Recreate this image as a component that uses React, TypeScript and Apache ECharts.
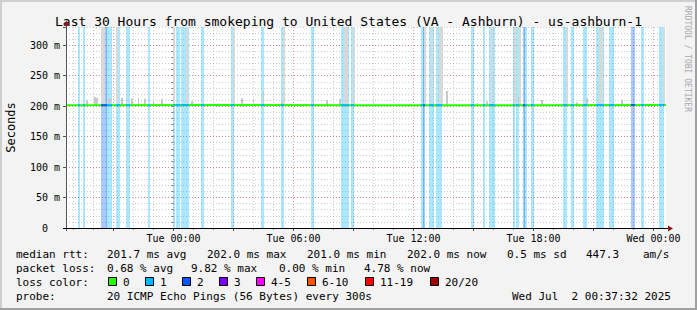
import React, { useEffect, useRef } from "react";
import * as echarts from "echarts";

// ---------- data ----------
const TITLE = "Last 30 Hours from smokeping to United States (VA - Ashburn) - us-ashburn-1";
const START_HOUR = -5.3744; // Mon 18:37:32 relative to Tue 00:00
const END_HOUR = 24.6256; // Wed 00:37:32
const STEP_HOURS = 5 / 60; // 300 s step
const Y_MAX = 330; // ms
const SMOKE_BASE = 201;

const xTickHours = [0, 6, 12, 18, 24];
const xTickLabels = ["Tue 00:00", "Tue 06:00", "Tue 12:00", "Tue 18:00", "Wed 00:00"];
const yLabelValues = [0, 50, 100, 150, 200, 250, 300];
const yLabelTexts = ["0\u00a0\u00a0", "50 m", "100 m", "150 m", "200 m", "250 m", "300 m"];

// step indices (5-min steps from start) with 1 / 2 lost pings
const loss1Steps = [7, 10, 24, 25, 26, 30, 31, 36, 37, 49, 64, 66, 67, 69, 70, 71, 72, 81, 99, 117, 129, 147,
  165, 166, 167, 168, 171, 213, 218, 219, 222, 223, 224, 243, 250, 254, 255, 256, 268, 270, 275, 279, 298, 299,
  303, 310, 311, 318, 319, 320, 321, 326, 327, 345, 356, 357];
const loss2Steps = [21, 22, 23, 214, 274, 339, 340];
// steps whose smoke reaches above the top of the graph
const smokeTopSteps = [21, 22, 30, 64, 72, 100, 130, 167, 168, 172, 215, 219, 224, 225, 255, 269, 272, 300, 320, 321, 358];
// [step, max rtt ms] small smoke spikes
const smokeSpikes: [number, number][] = [
  [12, 210], [17, 215], [18, 214], [25, 213], [26, 213], [33, 214], [39, 213], [43, 214], [47, 212], [52, 210],
  [57, 212], [75, 208], [82, 206], [91, 205], [105, 213], [112, 211], [118, 224], [129, 207], [148, 213],
  [156, 210], [164, 212], [184, 208], [228, 225], [246, 205], [252, 208], [271, 216], [285, 210], [306, 206],
  [312, 213], [333, 211],
];
// [step, median ms]
const medianPoints: [number, number][] = [[0, 201.6], [90, 201.8], [180, 201.6], [270, 201.7], [360, 202.0]];

const rttLabel = "median rtt:";
const rttStats = ["201.7 ms avg", "202.0 ms max", "201.0 ms min", "202.0 ms now", "0.5 ms sd", "447.3", "am/s"];
const lossLabel = "packet loss:";
const lossStats = ["0.68 % avg", "9.82 % max", "0.00 % min", "4.78 % now"];
const lossColorLabel = "loss color:";
const lossColorLabels = ["0", "1", "2", "3", "4-5", "6-10", "11-19", "20/20"];
const lossColors = ["#26ff00", "#00b8ff", "#0059ff", "#7e00ff", "#ff00ff", "#ff5500", "#ff0000", "#a10000"];
const probeLabel = "probe:";
const probeText = "20 ICMP Echo Pings (56 Bytes) every 300s";
const dateText = "Wed Jul\u00a0 2 00:37:32 2025";
const sideText = "RRDTOOL / TOBI OETIKER";

// ---------- layout ----------
const FONT = '"DejaVu Sans Mono", monospace';
const rttX = [107, 207, 307, 407, 507, 586, 643];
const lossX = [107, 191, 279, 364];
const boxX = [108, 145, 182, 219, 256, 307, 365, 430];
const lineY = [254, 268, 282, 296.5];

function hexAlpha(hex: string, a: number) {
  const r = parseInt(hex.slice(1, 3), 16), g = parseInt(hex.slice(3, 5), 16), b = parseInt(hex.slice(5, 7), 16);
  return `rgba(${r},${g},${b},${a})`;
}

function runs(steps: number[], level: number) {
  const s = [...steps].sort((a, b) => a - b);
  const out: number[][] = [];
  for (const v of s) {
    const last = out[out.length - 1];
    if (last && last[1] === v - 1) last[1] = v;
    else out.push([v, v, level]);
  }
  return out;
}

function medianAt(step: number) {
  for (let i = 0; i < medianPoints.length - 1; i++) {
    const [s0, v0] = medianPoints[i];
    const [s1, v1] = medianPoints[i + 1];
    if (step >= s0 && step <= s1) return v0 + ((v1 - v0) * (step - s0)) / (s1 - s0);
  }
  return medianPoints[medianPoints.length - 1][1];
}

const stepX = (s: number) => START_HOUR + s * STEP_HOURS;

export default function App() {
  const ref = useRef<HTMLDivElement>(null);
  useEffect(() => {
    if (!ref.current) return;
    const chart = echarts.init(ref.current, undefined, { renderer: "svg" });

    const lossRuns = [...runs(loss1Steps, 1), ...runs(loss2Steps, 2)];
    const smokeData = [
      ...smokeSpikes.map(([s, v]) => [s, v, 0]),
      ...smokeTopSteps.map((s) => [s, Y_MAX, 1]),
    ];
    const gridHours: number[] = [];
    for (let h = Math.ceil(START_HOUR); h <= Math.floor(END_HOUR); h++) gridHours.push(h);

    const graphic: any[] = [
      { type: "rect", shape: { x: 0, y: 0, width: 697, height: 2 }, style: { fill: "#cfcfcf" }, silent: true },
      { type: "rect", shape: { x: 0, y: 0, width: 2, height: 310 }, style: { fill: "#cfcfcf" }, silent: true },
      { type: "rect", shape: { x: 0, y: 308, width: 697, height: 2 }, style: { fill: "#a0a0a0" }, silent: true },
      { type: "rect", shape: { x: 695, y: 0, width: 2, height: 310 }, style: { fill: "#a0a0a0" }, silent: true },
      // axes
      { type: "line", shape: { x1: 66.5, y1: 231, x2: 66.5, y2: 24 }, style: { stroke: "#555", lineWidth: 1 }, z: 50 },
      { type: "line", shape: { x1: 63, y1: 228.5, x2: 669, y2: 228.5 }, style: { stroke: "#000", lineWidth: 1 }, z: 50 },
      { type: "polygon", shape: { points: [[66.5, 20.5], [63.5, 25.5], [69.5, 25.5]] }, style: { fill: "#8b1a1a" }, z: 51 },
      { type: "polygon", shape: { points: [[673, 228.5], [668, 225.5], [668, 231.5]] }, style: { fill: "#8b1a1a" }, z: 51 },
      // side text
      {
        type: "text", x: 687, y: 6, rotation: -Math.PI / 2,
        style: { text: sideText, font: `8px ${FONT}`, fill: "#a8a8a8", align: "left", verticalAlign: "middle" },
      },
    ];
    const txt = (text: string, x: number, y: number) => ({
      type: "text", x, y,
      style: { text, font: `11px ${FONT}`, fill: "#000", align: "left", verticalAlign: "middle" },
    });
    graphic.push(txt(rttLabel, 16, lineY[0]));
    rttStats.forEach((t, i) => graphic.push(txt(t, rttX[i], lineY[0])));
    graphic.push(txt(lossLabel, 16, lineY[1]));
    lossStats.forEach((t, i) => graphic.push(txt(t, lossX[i], lineY[1])));
    graphic.push(txt(lossColorLabel, 16, lineY[2]));
    lossColorLabels.forEach((t, i) => {
      graphic.push({
        type: "rect", shape: { x: boxX[i] + 0.5, y: lineY[2] - 4.5, width: 8, height: 8 },
        style: { fill: lossColors[i], stroke: "#000", lineWidth: 1 },
      });
      graphic.push(txt(t, boxX[i] + 15, lineY[2]));
    });
    graphic.push(txt(probeLabel, 16, lineY[3]));
    graphic.push(txt(probeText, 107, lineY[3]));
    graphic.push(txt(dateText, 512, lineY[3]));

    const option: any = {
      animation: false,
      backgroundColor: "#f3f3f3",
      textStyle: { fontFamily: FONT },
      title: {
        text: TITLE, left: "center", top: 10,
        textStyle: { fontFamily: FONT, fontSize: 13, fontWeight: "normal", color: "#000" },
      },
      grid: {
        left: 66, top: 27, width: 600, height: 201, show: true, backgroundColor: "#ffffff", borderWidth: 0,
        containLabel: false, outerBoundsMode: "none",
      },
      xAxis: {
        type: "value", min: START_HOUR, max: END_HOUR,
        axisLine: { show: false }, axisTick: { show: false }, splitLine: { show: false },
        axisLabel: {
          customValues: xTickHours,
          formatter: (v: number) => {
            const i = xTickHours.findIndex((h) => Math.abs(h - v) < 1e-6);
            return i >= 0 ? xTickLabels[i] : "";
          },
          margin: 5, fontSize: 10, color: "#000", fontFamily: FONT,
        },
      },
      yAxis: [
        {
          type: "value", min: 0, max: Y_MAX, interval: 10, position: "left",
          axisLine: { show: false },
          axisTick: { show: true, length: 2, lineStyle: { color: "#777" } },
          axisLabel: { show: false },
          splitLine: { show: true, showMinLine: false, lineStyle: { color: "rgba(128,128,128,0.4)", type: [1, 2], width: 1 } },
        },
        {
          type: "value", min: 0, max: Y_MAX, interval: 50, position: "left",
          name: "Seconds", nameLocation: "middle", nameGap: 49, nameRotate: 90,
          nameTextStyle: { fontFamily: FONT, fontSize: 12, color: "#000" },
          axisLine: { show: false },
          axisTick: { show: true, length: 3, lineStyle: { color: "#555" } },
          axisLabel: {
            margin: 6, fontSize: 10, color: "#000", fontFamily: FONT,
            formatter: (v: number) => {
              const i = yLabelValues.indexOf(v);
              return i >= 0 ? yLabelTexts[i] : "";
            },
          },
          splitLine: { show: true, showMinLine: false, showMaxLine: false, lineStyle: { color: "rgba(230,90,90,0.6)", type: [1, 2], width: 1 } },
        },
      ],
      series: [
        {
          type: "custom", name: "vgrid", z: 1, silent: true,
          data: gridHours.map((h) => [h]),
          renderItem: (_p: any, api: any) => {
            const h = api.value(0);
            const top = api.coord([h, Y_MAX]);
            const bot = api.coord([h, 0]);
            const x = Math.round(top[0]) + 0.5;
            const major = Math.abs(h % 3) < 1e-6;
            return {
              type: "group",
              children: [
                {
                  type: "line", shape: { x1: x, y1: top[1], x2: x, y2: bot[1] },
                  style: { stroke: major ? "rgba(230,90,90,0.6)" : "rgba(128,128,128,0.4)", lineWidth: 1, lineDash: [1, 2] },
                },
                {
                  type: "line", shape: { x1: x, y1: bot[1] + 1, x2: x, y2: bot[1] + (major ? 3 : 2) },
                  style: { stroke: major ? "#555" : "#888", lineWidth: 1 },
                },
              ],
            };
          },
        },
        {
          type: "custom", name: "loss", z: 2, silent: true,
          data: lossRuns,
          renderItem: (_p: any, api: any) => {
            const s = api.value(0), e = api.value(1), lvl = api.value(2);
            const a = api.coord([stepX(s), Y_MAX]);
            const b = api.coord([stepX(e + 1), 0]);
            const x0 = Math.round(a[0]);
            const x1 = Math.round(b[0]) + 1;
            return {
              type: "rect", shape: { x: x0, y: a[1], width: x1 - x0, height: b[1] - a[1] },
              style: { fill: hexAlpha(lossColors[lvl], 0.33) },
            };
          },
        },
        {
          type: "custom", name: "smoke", z: 3, silent: true,
          data: smokeData,
          renderItem: (_p: any, api: any) => {
            const s = api.value(0), v = api.value(1), top = api.value(2);
            const a = api.coord([stepX(s), Math.min(v, Y_MAX)]);
            const b = api.coord([stepX(s + 1), SMOKE_BASE]);
            const x0 = Math.round(a[0]);
            const x1 = Math.max(x0 + (top ? 2 : 1), Math.round(b[0]));
            return {
              type: "rect", shape: { x: x0, y: a[1], width: x1 - x0, height: b[1] - a[1] },
              style: { fill: top ? "#d8d8d8" : "#c8c8c8" },
            };
          },
        },
        {
          type: "line", name: "median", z: 4, silent: true,
          data: medianPoints.map(([s, v]) => [stepX(s), v]),
          symbol: "none",
          lineStyle: { color: "#26ff00", width: 2 },
        },
        {
          type: "custom", name: "medianLoss", z: 5, silent: true,
          data: lossRuns,
          renderItem: (_p: any, api: any) => {
            const s = api.value(0), e = api.value(1), lvl = api.value(2);
            const a = api.coord([stepX(s), medianAt(s)]);
            const b = api.coord([stepX(e + 1), medianAt(e + 1)]);
            const x0 = Math.round(a[0]);
            const x1 = Math.round(b[0]) + 1;
            return {
              type: "rect", shape: { x: x0, y: a[1] - 1, width: x1 - x0, height: 2 },
              style: { fill: lossColors[lvl] },
            };
          },
        },
      ],
      graphic,
    };
    chart.setOption(option);
    return () => chart.dispose();
  }, []);
  return <div ref={ref} style={{ position: "fixed", left: 0, top: 0, width: 697, height: 310 }} />;
}
